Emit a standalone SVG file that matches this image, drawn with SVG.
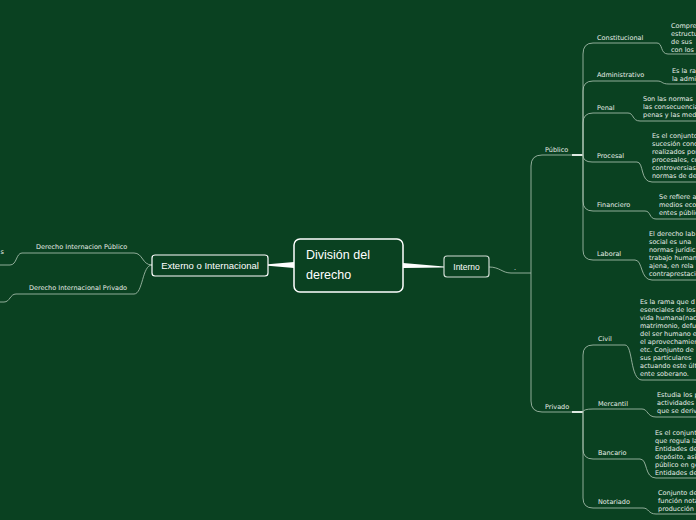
<svg xmlns="http://www.w3.org/2000/svg" width="696" height="520" viewBox="0 0 696 520">
<style>
.lbl{font-family:"DejaVu Sans","Liberation Sans",sans-serif;font-size:6.5px;fill:#e6eee8}
.desc{font-family:"DejaVu Sans","Liberation Sans",sans-serif;font-size:6.5px;fill:#e6eee8}
.ln{fill:none;stroke:#a8c0ae;stroke-width:1;stroke-opacity:0.85}
.hl{fill:none;stroke:#dfe9e2;stroke-width:2}
.big{font-family:"Liberation Sans","DejaVu Sans",sans-serif;fill:#ffffff}
</style>
<rect width="696" height="520" fill="#0a4121"/>
<g id="connectors">
  <path d="M294 262 L294 268 L268 265.7 L268 264.3 Z" fill="#ffffff"/>
  <path d="M403 263 L403 268 L444 267.6 L444 266.4 Z" fill="#ffffff"/>
  <path class="ln" d="M152 265 C142 265 143 253 134 253 L22 253 C16 253 17 265 10 265 L0 265"/>
  <path class="ln" d="M152 265 C142 265 143 294 134 294 L16 294 C10 294 10 302 4 302 L0 302"/>
  <path class="ln" d="M489 267 C500 267 502 273 511 273 L531 273"/>
  <path class="ln" d="M531 273 L531 166 Q531 155 542 155 L572 155"/>
  <path class="ln" d="M531 273 L531 401 Q531 412 542 412 L572 412"/>
  <path class="hl" d="M572 155 L583 155"/>
  <path class="hl" d="M572 412 L583 412"/>
  <path class="ln" d="M583 155 L583 54 Q583 43 593 43 L657 43 C663 43 660 54 668 54 L696 54"/>
  <path class="ln" d="M583 155 L583 91 Q583 81 593 81 L657 81 C663 81 661 84 669 84 L696 84"/>
  <path class="ln" d="M583 155 L583 123 Q583 113 593 113 L628 113 C634 113 632 121 640 121 L696 121"/>
  <path class="ln" d="M583 155 Q583 162 592 162 L637 162 C644 162 640 182 652 182 L696 182"/>
  <path class="ln" d="M583 155 L583 201 Q583 211 593 211 L645 211 C651 211 649 219 656 219 L696 219"/>
  <path class="ln" d="M583 155 L583 250 Q583 260 593 260 L635 260 C643 260 640 280 652 280 L696 280"/>
  <path class="ln" d="M583 412 L583 355 Q583 345 593 345 L625 345 C633 345 630 380 642 380 L696 380"/>
  <path class="ln" d="M583 412 Q583 409 593 409 L642 409 C648 409 647 417 656 417 L696 417"/>
  <path class="ln" d="M583 412 L583 449 Q583 459 593 459 L640 459 C648 459 644 478 656 478 L696 478"/>
  <path class="ln" d="M583 412 L583 498 Q583 508 593 508 L643 508 C649 508 648 514 656 514 L696 514"/>
</g>
<g id="central">
  <rect x="294" y="239" width="109" height="53" rx="6" fill="#0a4121" stroke="#ffffff" stroke-width="1.5"/>
  <text class="big" x="306" y="259" font-size="12.5">División del</text>
  <text class="big" x="306" y="279" font-size="12.5">derecho</text>
</g>
<g id="externo">
  <rect x="152" y="255" width="116" height="21" rx="3" fill="#0a4121" stroke="#ffffff" stroke-width="1.2"/>
  <text class="big" x="210" y="269" font-size="9.5" text-anchor="middle">Externo o Internacional</text>
</g>
<g id="interno">
  <rect x="444" y="256" width="45" height="21" rx="3" fill="#0a4121" stroke="#cfdcd3" stroke-width="1.2"/>
  <text class="big" x="466.5" y="270" font-size="8.5" text-anchor="middle">Interno</text>
</g>
<g id="dot"><text class="lbl" x="514" y="270">.</text></g>
<g id="dip">
  <text class="lbl" x="36" y="249">Derecho Internacion Público</text>
  <text class="desc" x="4" y="253.5" text-anchor="end">s</text>
</g>
<g id="dipriv"><text class="lbl" x="29" y="290">Derecho Internacional Privado</text></g>
<g id="publico"><text class="lbl" x="545" y="152">Público</text></g>
<g id="privado"><text class="lbl" x="545" y="408.5">Privado</text></g>
<g id="constitucional">
  <text class="lbl" x="597" y="39.5">Constitucional</text>
  <text class="desc"><tspan x="671" y="27.5">Compre</tspan><tspan x="671" y="35.5">estructu</tspan><tspan x="671" y="43.5">de sus</tspan><tspan x="671" y="51.5">con los</tspan></text>
</g>
<g id="administrativo">
  <text class="lbl" x="597" y="76.5">Administrativo</text>
  <text class="desc"><tspan x="672" y="72.5">Es la ra</tspan><tspan x="672" y="80.5">la admi</tspan></text>
</g>
<g id="penal">
  <text class="lbl" x="597" y="109.5">Penal</text>
  <text class="desc"><tspan x="643" y="101">Son las normas</tspan><tspan x="643" y="109">las consecuencia</tspan><tspan x="643" y="117">penas y las med</tspan></text>
</g>
<g id="procesal">
  <text class="lbl" x="597" y="158">Procesal</text>
  <text class="desc"><tspan x="652" y="137.5">Es el conjunto</tspan><tspan x="652" y="145.5">sucesión conc</tspan><tspan x="652" y="153.5">realizados por</tspan><tspan x="652" y="161.5">procesales, co</tspan><tspan x="652" y="169.5">controversias</tspan><tspan x="652" y="177.5">normas de de</tspan></text>
</g>
<g id="financiero">
  <text class="lbl" x="597" y="206.5">Financiero</text>
  <text class="desc"><tspan x="659" y="198.5">Se refiere a</tspan><tspan x="659" y="206.5">medios eco</tspan><tspan x="659" y="214.5">entes públic</tspan></text>
</g>
<g id="laboral">
  <text class="lbl" x="597" y="256">Laboral</text>
  <text class="desc"><tspan x="649" y="235.5">El derecho lab</tspan><tspan x="649" y="243.5">social es una</tspan><tspan x="649" y="251.5">normas jurídic</tspan><tspan x="649" y="259.5">trabajo human</tspan><tspan x="649" y="267.5">ajena, en rela</tspan><tspan x="649" y="275.5">contraprestació</tspan></text>
</g>
<g id="civil">
  <text class="lbl" x="598" y="341">Civil</text>
  <text class="desc"><tspan x="640" y="304">Es la rama que d</tspan><tspan x="640" y="312">esenciales de los</tspan><tspan x="640" y="320">vida humana(nac</tspan><tspan x="640" y="328">matrimonio, defu</tspan><tspan x="640" y="336">del ser humano e</tspan><tspan x="640" y="344">el aprovechamien</tspan><tspan x="640" y="352">etc. Conjunto de</tspan><tspan x="640" y="360">sus particulares</tspan><tspan x="640" y="368">actuando este últ</tspan><tspan x="640" y="376">ente soberano.</tspan></text>
</g>
<g id="mercantil">
  <text class="lbl" x="598" y="405.5">Mercantil</text>
  <text class="desc"><tspan x="657" y="396.5">Estudia los p</tspan><tspan x="657" y="404.5">actividades a</tspan><tspan x="657" y="412.5">que se deriv</tspan></text>
</g>
<g id="bancario">
  <text class="lbl" x="598" y="455">Bancario</text>
  <text class="desc"><tspan x="655" y="434.5">Es el conjunt</tspan><tspan x="655" y="442.5">que regula la</tspan><tspan x="655" y="450.5">Entidades de</tspan><tspan x="655" y="458.5">depósito, así</tspan><tspan x="655" y="466.5">público en ge</tspan><tspan x="655" y="474.5">Entidades de</tspan></text>
</g>
<g id="notariado">
  <text class="lbl" x="598" y="504">Notariado</text>
  <text class="desc"><tspan x="658" y="494.5">Conjunto de</tspan><tspan x="658" y="502.5">función nota</tspan><tspan x="658" y="510.5">producción</tspan></text>
</g>
</svg>
